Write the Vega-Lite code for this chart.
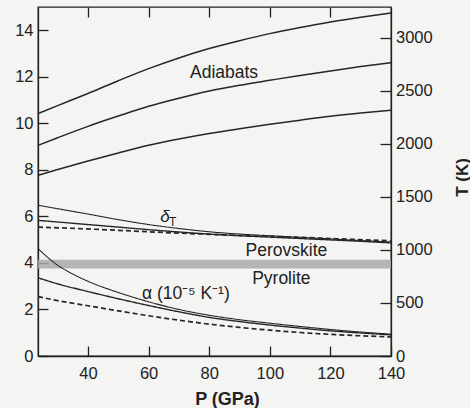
{
  "$schema": "https://vega.github.io/schema/vega-lite/v6.json",
  "width": 353,
  "height": 349,
  "autosize": {"type": "none"},
  "padding": {"left": 38, "top": 7, "right": 79, "bottom": 52},
  "background": "#f4f4f2",
  "config": {
    "view": {"stroke": "#222222", "strokeWidth": 1.3},
    "font": "Liberation Sans",
    "axis": {
      "grid": false,
      "labelFlush": false,
      "labelOverlap": false,
      "labelFont": "Liberation Sans",
      "labelFontSize": 16.5,
      "labelColor": "#222222",
      "domainColor": "#222222",
      "domainWidth": 1.3,
      "tickColor": "#222222",
      "tickWidth": 1.3,
      "titleFont": "Liberation Sans",
      "titleColor": "#222222"
    }
  },
  "datasets": {
    "band": [{"P0": 23.5, "P1": 140, "lo": 3.76, "hi": 4.14}],
    "props": [
      {"P": 23.5, "v": 6.48, "curve": "dT_a", "kind": "thin"},
      {"P": 30, "v": 6.33, "curve": "dT_a", "kind": "thin"},
      {"P": 40, "v": 6.1, "curve": "dT_a", "kind": "thin"},
      {"P": 50, "v": 5.86, "curve": "dT_a", "kind": "thin"},
      {"P": 60, "v": 5.65, "curve": "dT_a", "kind": "thin"},
      {"P": 70, "v": 5.48, "curve": "dT_a", "kind": "thin"},
      {"P": 80, "v": 5.34, "curve": "dT_a", "kind": "thin"},
      {"P": 90, "v": 5.24, "curve": "dT_a", "kind": "thin"},
      {"P": 100, "v": 5.17, "curve": "dT_a", "kind": "thin"},
      {"P": 110, "v": 5.1, "curve": "dT_a", "kind": "thin"},
      {"P": 120, "v": 5.03, "curve": "dT_a", "kind": "thin"},
      {"P": 130, "v": 4.96, "curve": "dT_a", "kind": "thin"},
      {"P": 140, "v": 4.9, "curve": "dT_a", "kind": "thin"},
      {"P": 23.5, "v": 5.83, "curve": "dT_b", "kind": "thick"},
      {"P": 30, "v": 5.76, "curve": "dT_b", "kind": "thick"},
      {"P": 40, "v": 5.65, "curve": "dT_b", "kind": "thick"},
      {"P": 50, "v": 5.54, "curve": "dT_b", "kind": "thick"},
      {"P": 60, "v": 5.43, "curve": "dT_b", "kind": "thick"},
      {"P": 70, "v": 5.33, "curve": "dT_b", "kind": "thick"},
      {"P": 80, "v": 5.24, "curve": "dT_b", "kind": "thick"},
      {"P": 90, "v": 5.17, "curve": "dT_b", "kind": "thick"},
      {"P": 100, "v": 5.11, "curve": "dT_b", "kind": "thick"},
      {"P": 110, "v": 5.05, "curve": "dT_b", "kind": "thick"},
      {"P": 120, "v": 4.99, "curve": "dT_b", "kind": "thick"},
      {"P": 130, "v": 4.93, "curve": "dT_b", "kind": "thick"},
      {"P": 140, "v": 4.86, "curve": "dT_b", "kind": "thick"},
      {"P": 23.5, "v": 5.54, "curve": "dT_c", "kind": "dashed"},
      {"P": 30, "v": 5.51, "curve": "dT_c", "kind": "dashed"},
      {"P": 40, "v": 5.46, "curve": "dT_c", "kind": "dashed"},
      {"P": 50, "v": 5.4, "curve": "dT_c", "kind": "dashed"},
      {"P": 60, "v": 5.34, "curve": "dT_c", "kind": "dashed"},
      {"P": 70, "v": 5.28, "curve": "dT_c", "kind": "dashed"},
      {"P": 80, "v": 5.23, "curve": "dT_c", "kind": "dashed"},
      {"P": 90, "v": 5.18, "curve": "dT_c", "kind": "dashed"},
      {"P": 100, "v": 5.14, "curve": "dT_c", "kind": "dashed"},
      {"P": 110, "v": 5.1, "curve": "dT_c", "kind": "dashed"},
      {"P": 120, "v": 5.05, "curve": "dT_c", "kind": "dashed"},
      {"P": 130, "v": 5.0, "curve": "dT_c", "kind": "dashed"},
      {"P": 140, "v": 4.95, "curve": "dT_c", "kind": "dashed"},
      {"P": 23.5, "v": 4.62, "curve": "al_a", "kind": "thin"},
      {"P": 26.5, "v": 4.26, "curve": "al_a", "kind": "thin"},
      {"P": 30, "v": 3.9, "curve": "al_a", "kind": "thin"},
      {"P": 35, "v": 3.52, "curve": "al_a", "kind": "thin"},
      {"P": 40, "v": 3.21, "curve": "al_a", "kind": "thin"},
      {"P": 50, "v": 2.73, "curve": "al_a", "kind": "thin"},
      {"P": 60, "v": 2.33, "curve": "al_a", "kind": "thin"},
      {"P": 70, "v": 2.0, "curve": "al_a", "kind": "thin"},
      {"P": 80, "v": 1.75, "curve": "al_a", "kind": "thin"},
      {"P": 90, "v": 1.56, "curve": "al_a", "kind": "thin"},
      {"P": 100, "v": 1.41, "curve": "al_a", "kind": "thin"},
      {"P": 110, "v": 1.27, "curve": "al_a", "kind": "thin"},
      {"P": 120, "v": 1.14, "curve": "al_a", "kind": "thin"},
      {"P": 130, "v": 1.03, "curve": "al_a", "kind": "thin"},
      {"P": 140, "v": 0.94, "curve": "al_a", "kind": "thin"},
      {"P": 23.5, "v": 3.36, "curve": "al_b", "kind": "thick"},
      {"P": 30, "v": 3.1, "curve": "al_b", "kind": "thick"},
      {"P": 40, "v": 2.77, "curve": "al_b", "kind": "thick"},
      {"P": 50, "v": 2.46, "curve": "al_b", "kind": "thick"},
      {"P": 60, "v": 2.17, "curve": "al_b", "kind": "thick"},
      {"P": 70, "v": 1.9, "curve": "al_b", "kind": "thick"},
      {"P": 80, "v": 1.66, "curve": "al_b", "kind": "thick"},
      {"P": 90, "v": 1.48, "curve": "al_b", "kind": "thick"},
      {"P": 100, "v": 1.33, "curve": "al_b", "kind": "thick"},
      {"P": 110, "v": 1.2, "curve": "al_b", "kind": "thick"},
      {"P": 120, "v": 1.08, "curve": "al_b", "kind": "thick"},
      {"P": 130, "v": 0.99, "curve": "al_b", "kind": "thick"},
      {"P": 140, "v": 0.91, "curve": "al_b", "kind": "thick"},
      {"P": 23.5, "v": 2.55, "curve": "al_c", "kind": "dashed"},
      {"P": 30, "v": 2.38, "curve": "al_c", "kind": "dashed"},
      {"P": 40, "v": 2.16, "curve": "al_c", "kind": "dashed"},
      {"P": 50, "v": 1.94, "curve": "al_c", "kind": "dashed"},
      {"P": 60, "v": 1.73, "curve": "al_c", "kind": "dashed"},
      {"P": 70, "v": 1.54, "curve": "al_c", "kind": "dashed"},
      {"P": 80, "v": 1.37, "curve": "al_c", "kind": "dashed"},
      {"P": 90, "v": 1.23, "curve": "al_c", "kind": "dashed"},
      {"P": 100, "v": 1.11, "curve": "al_c", "kind": "dashed"},
      {"P": 110, "v": 1.01, "curve": "al_c", "kind": "dashed"},
      {"P": 120, "v": 0.93, "curve": "al_c", "kind": "dashed"},
      {"P": 130, "v": 0.87, "curve": "al_c", "kind": "dashed"},
      {"P": 140, "v": 0.82, "curve": "al_c", "kind": "dashed"}
    ],
    "adiabats": [
      {"P": 23.5, "T": 2285, "adiabat": "hot"},
      {"P": 30, "T": 2360, "adiabat": "hot"},
      {"P": 40, "T": 2475, "adiabat": "hot"},
      {"P": 50, "T": 2595, "adiabat": "hot"},
      {"P": 60, "T": 2709, "adiabat": "hot"},
      {"P": 70, "T": 2810, "adiabat": "hot"},
      {"P": 80, "T": 2898, "adiabat": "hot"},
      {"P": 90, "T": 2972, "adiabat": "hot"},
      {"P": 100, "T": 3039, "adiabat": "hot"},
      {"P": 110, "T": 3097, "adiabat": "hot"},
      {"P": 120, "T": 3149, "adiabat": "hot"},
      {"P": 130, "T": 3193, "adiabat": "hot"},
      {"P": 140, "T": 3233, "adiabat": "hot"},
      {"P": 23.5, "T": 1986, "adiabat": "mid"},
      {"P": 30, "T": 2058, "adiabat": "mid"},
      {"P": 40, "T": 2165, "adiabat": "mid"},
      {"P": 50, "T": 2262, "adiabat": "mid"},
      {"P": 60, "T": 2354, "adiabat": "mid"},
      {"P": 70, "T": 2430, "adiabat": "mid"},
      {"P": 80, "T": 2498, "adiabat": "mid"},
      {"P": 90, "T": 2552, "adiabat": "mid"},
      {"P": 100, "T": 2599, "adiabat": "mid"},
      {"P": 110, "T": 2645, "adiabat": "mid"},
      {"P": 120, "T": 2687, "adiabat": "mid"},
      {"P": 130, "T": 2728, "adiabat": "mid"},
      {"P": 140, "T": 2766, "adiabat": "mid"},
      {"P": 23.5, "T": 1703, "adiabat": "cool"},
      {"P": 30, "T": 1758, "adiabat": "cool"},
      {"P": 40, "T": 1838, "adiabat": "cool"},
      {"P": 50, "T": 1914, "adiabat": "cool"},
      {"P": 60, "T": 1986, "adiabat": "cool"},
      {"P": 70, "T": 2045, "adiabat": "cool"},
      {"P": 80, "T": 2097, "adiabat": "cool"},
      {"P": 90, "T": 2142, "adiabat": "cool"},
      {"P": 100, "T": 2184, "adiabat": "cool"},
      {"P": 110, "T": 2223, "adiabat": "cool"},
      {"P": 120, "T": 2260, "adiabat": "cool"},
      {"P": 130, "T": 2290, "adiabat": "cool"},
      {"P": 140, "T": 2316, "adiabat": "cool"}
    ],
    "labels": [
      {"P": 84.9, "v": 11.95, "text": "Adiabats"},
      {"P": 105.5, "v": 4.31, "text": "Perovskite"},
      {"P": 103.8, "v": 3.08, "text": "Pyrolite"},
      {"P": 72.3, "v": 2.47, "text": "α (10⁻⁵ K⁻¹)"}
    ],
    "delta": [{"P": 65.4, "v": 5.75, "sym": "δ", "sub": "T"}]
  },
  "layer": [
    {
      "data": {"name": "band"},
      "mark": {"type": "rect", "fill": "#a9a9a9", "opacity": 0.85},
      "encoding": {
        "x": {"field": "P0", "type": "quantitative", "scale": {"domain": [23.5, 140], "nice": false, "zero": false}, "axis": null},
        "x2": {"field": "P1"},
        "y": {"field": "lo", "type": "quantitative", "scale": {"domain": [0, 15], "nice": false}, "axis": null},
        "y2": {"field": "hi"}
      }
    },
    {
      "data": {"name": "props"},
      "mark": {"type": "line", "interpolate": "monotone", "color": "#262626"},
      "encoding": {
        "x": {
          "field": "P", "type": "quantitative",
          "scale": {"domain": [23.5, 140], "nice": false, "zero": false},
          "axis": {
            "orient": "bottom",
            "values": [40, 60, 80, 100, 120, 140],
            "tickSize": -10,
            "labelPadding": 19,
            "title": "P (GPa)",
            "titleFontSize": 18,
            "titleFontWeight": "bold",
            "titleX": 189,
            "titleY": 48,
            "titleBaseline": "alphabetic",
            "titleAlign": "center"
          }
        },
        "y": {
          "field": "v", "type": "quantitative",
          "scale": {"domain": [0, 15], "nice": false},
          "axis": {
            "orient": "left",
            "values": [0, 2, 4, 6, 8, 10, 12, 14],
            "tickSize": -10,
            "labelPadding": 15,
            "title": null
          }
        },
        "detail": {"field": "curve", "type": "nominal"},
        "strokeDash": {
          "field": "kind", "type": "nominal",
          "scale": {"domain": ["thin", "thick", "dashed"], "range": [[1, 0], [1, 0], [5, 3]]},
          "legend": null
        },
        "strokeWidth": {
          "field": "kind", "type": "ordinal",
          "scale": {"domain": ["thin", "thick", "dashed"], "range": [1.1, 1.7, 1.4]},
          "legend": null
        }
      }
    },
    {
      "data": {"name": "labels"},
      "mark": {"type": "text", "fontSize": 17.5, "color": "#222222", "align": "center", "baseline": "alphabetic"},
      "encoding": {
        "x": {"field": "P", "type": "quantitative", "scale": {"domain": [23.5, 140], "nice": false, "zero": false}, "axis": null},
        "y": {"field": "v", "type": "quantitative", "scale": {"domain": [0, 15], "nice": false}, "axis": null},
        "text": {"field": "text"}
      }
    },
    {
      "data": {"name": "delta"},
      "mark": {"type": "text", "fontSize": 17, "fontStyle": "italic", "color": "#222222", "align": "center", "baseline": "alphabetic"},
      "encoding": {
        "x": {"field": "P", "type": "quantitative", "scale": {"domain": [23.5, 140], "nice": false, "zero": false}, "axis": null},
        "y": {"field": "v", "type": "quantitative", "scale": {"domain": [0, 15], "nice": false}, "axis": null},
        "text": {"field": "sym"}
      }
    },
    {
      "data": {"name": "delta"},
      "mark": {"type": "text", "fontSize": 12, "color": "#222222", "align": "left", "baseline": "alphabetic", "dx": 4, "dy": 4},
      "encoding": {
        "x": {"field": "P", "type": "quantitative", "scale": {"domain": [23.5, 140], "nice": false, "zero": false}, "axis": null},
        "y": {"field": "v", "type": "quantitative", "scale": {"domain": [0, 15], "nice": false}, "axis": null},
        "text": {"field": "sub"}
      }
    },
    {
      "data": {"name": "adiabats"},
      "mark": {"type": "line", "interpolate": "monotone", "color": "#262626", "strokeWidth": 1.5},
      "encoding": {
        "x": {
          "field": "P", "type": "quantitative",
          "scale": {"domain": [23.5, 140], "nice": false, "zero": false},
          "axis": {
            "orient": "top",
            "values": [40, 60, 80, 100, 120],
            "tickSize": -10,
            "labels": false,
            "domain": false,
            "title": null
          }
        },
        "y": {
          "field": "T", "type": "quantitative",
          "scale": {"domain": [0, 3290], "nice": false},
          "axis": {
            "orient": "right",
            "values": [0, 500, 1000, 1500, 2000, 2500, 3000],
            "format": "d",
            "tickSize": -11,
            "labelPadding": 15.5,
            "title": "T (K)",
            "titleFontSize": 17,
            "titleFontWeight": "bold",
            "titleAngle": 270,
            "titleX": 76,
            "titleY": 170,
            "titleBaseline": "alphabetic",
            "titleAlign": "center"
          }
        },
        "detail": {"field": "adiabat", "type": "nominal"}
      }
    }
  ],
  "resolve": {"scale": {"y": "independent"}, "axis": {"x": "independent"}}
}
